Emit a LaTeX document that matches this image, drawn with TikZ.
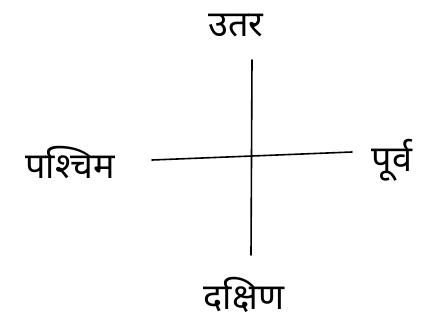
\documentclass[tikz,border=0pt]{standalone}
\usepackage{fontspec}
\newfontfamily\devfont[Script=Devanagari]{Noto Sans}
\begin{document}
\begin{tikzpicture}[x=1pt,y=-1pt,
  axis/.style={line width=1.6pt,line cap=round,black},
  lbl/.style={font=\devfont\fontsize{36}{40}\selectfont,inner sep=0pt,text=black}]
\useasboundingbox[fill=white] (0,0) rectangle (435,327);
\coordinate (top) at (252,60);
\coordinate (bot) at (251,255);
\coordinate (lft) at (152,160);
\coordinate (rgt) at (352,152);
\draw[axis] (top) -- (bot);
\draw[axis] (lft) -- (rgt);
\node[lbl] (north) at (236,26) {उतर};
\node[lbl] (west) at (70,162) {पश्चिम};
\node[lbl] (east) at (392,160) {पूर्व};
\node[lbl] (south) at (244,295) {दक्षिण};
\end{tikzpicture}
\end{document}
